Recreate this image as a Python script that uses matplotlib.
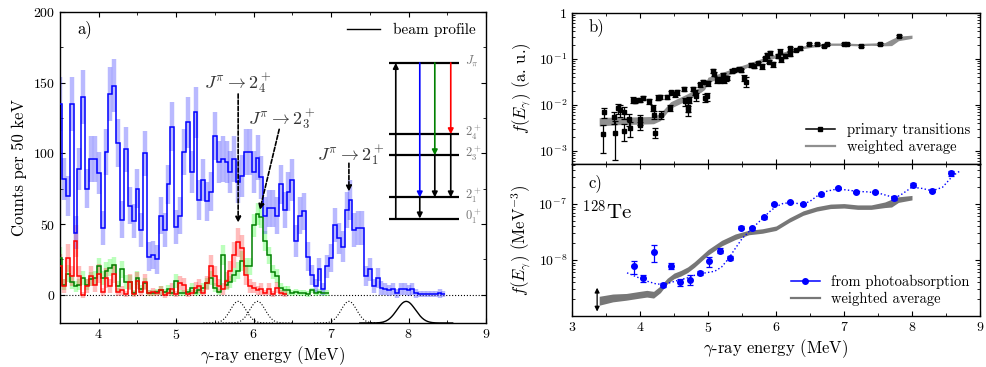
import numpy as np
import matplotlib
matplotlib.use('Agg')
import matplotlib.pyplot as plt
from matplotlib.lines import Line2D
from matplotlib.ticker import MultipleLocator, LogLocator, NullFormatter

plt.rcParams['font.family'] = 'serif'
plt.rcParams['font.serif'] = ['cmr10']
plt.rcParams['mathtext.fontset'] = 'cm'
plt.rcParams['axes.formatter.use_mathtext'] = True
plt.rcParams['axes.linewidth'] = 1.0

# ---- panel a: gamma spectra, 50 keV bins starting at 3.50 MeV (bin centres)
e_start = 3.50
bin_w = 0.05

blue_counts = [135, 82, 70, 135, 44, 89, 140, 75, 96, 96,
               86, 47, 101, 142, 148, 107, 53, 103, 63, 52,
               75, 46, 100, 27, 28, 25, 56, 46, 78, 119,
               48, 56, 101, 122, 87, 129, 67, 81, 66, 73,
               112, 94, 96, 94, 87, 96, 80, 84, 101, 101,
               87, 97, 83, 56, 61, 61, 56, 78, 60, 73,
               81, 38, 56, 59, 27, 14, 6, 18, 4, 20,
               26, 49, 40, 34, 60, 67, 46, 47, 47, 13,
               18, 6, 12, 5, 4, 3, 4, 1, 4, 4,
               3, 4, 1, 0.5, 0.3, 0.3, 0.5, 0.5, 1, 0.5]
blue_err = [19, 15, 14, 19, 12, 15, 19, 14, 16, 16,
            15, 12, 16, 19, 19, 17, 13, 16, 13, 12,
            14, 12, 16, 10, 10, 10, 13, 12, 14, 17,
            12, 13, 16, 18, 15, 18, 14, 15, 14, 14,
            17, 15, 16, 15, 15, 16, 15, 15, 16, 16,
            15, 16, 15, 13, 13, 13, 13, 14, 13, 14,
            15, 11, 13, 13, 10, 7, 5, 8, 4, 8,
            10, 12, 11, 11, 13, 14, 12, 12, 12, 7,
            8, 5, 7, 5, 4, 4, 4, 3, 4, 4,
            4, 4, 3, 2, 2, 2, 2, 2, 3, 2]

red_counts = [20, 6, 26, 13, 38, 13, 0, 6, 13, 7,
              15, 2, 12, 6, 15, 2, 3, 0.5, 9, 0.5,
              10, 2, 9, 1, 2, 1, 3, 0, 1, 4,
              0.5, 8, 7, 0.5, 1, 5, 6, 1, 8, 20,
              13, 6, 4, 10, 17, 28, 37, 33, 14, 6,
              5, 3, 4, 1, 4, 0.5, 5, 1, 0.5]
red_err = [9, 5, 10, 7, 11, 7, 2, 5, 7, 5,
           7, 3, 7, 5, 7, 3, 3, 2, 6, 2,
           6, 3, 6, 2, 3, 2, 3, 2, 2, 4,
           2, 5, 5, 2, 2, 4, 5, 2, 5, 8,
           7, 5, 4, 6, 7, 9, 10, 9, 7, 5,
           4, 3, 4, 2, 4, 2, 4, 2, 2]

green_counts = [26, 7, 15, 9, 6, 7, 12, 7, 11, 12,
                20, 12, 17, 19, 21, 6, 18, 9, 9, 1,
                12, 4, 8, 1, 1, 2, 3, 2, 4, 1,
                10, 1, 1, 2, 5, 1, 3, 5, 8, 12,
                5, 2, 28, 7, 9, 14, 17, 24, 20, 20,
                49, 57, 55, 38, 28, 16, 13, 5, 3, 3,
                1, 2, 1, 1, 0.5, 3, 1, 2, 1, 1]
green_err = [8, 4, 6, 5, 4, 4, 5, 4, 5, 5,
             6, 5, 6, 6, 6, 4, 6, 5, 5, 2,
             5, 3, 4, 2, 2, 2, 3, 2, 3, 2,
             5, 2, 2, 2, 3, 2, 3, 3, 4, 5,
             3, 2, 7, 4, 4, 5, 6, 7, 6, 6,
             8, 8, 8, 7, 6, 5, 5, 3, 3, 3,
             2, 2, 2, 2, 2, 2, 2, 2, 2, 2]

peak_e = [5.80, 6.05, 7.23]
beam_e = 7.97

# ---- panel b: primary transitions
prim_e = [3.45, 3.47, 3.62, 3.63, 3.68, 3.71, 3.76, 3.76, 3.84, 3.85,
          3.90, 3.93, 4.00, 4.00, 4.00, 4.05, 4.14, 4.19, 4.21, 4.22,
          4.27, 4.29, 4.31, 4.40, 4.44, 4.45, 4.51, 4.54, 4.65, 4.66,
          4.70, 4.71, 4.72, 4.78, 4.81, 4.83, 4.88, 4.93, 4.96, 4.98,
          5.00, 5.08, 5.09, 5.13, 5.18, 5.22, 5.24, 5.27, 5.28, 5.36,
          5.38, 5.45, 5.48, 5.53, 5.56, 5.64, 5.67, 5.74, 5.80, 5.84,
          5.87, 5.91, 5.90, 5.95, 6.03, 6.06, 6.08, 6.13, 6.20, 6.21,
          6.30, 6.36, 6.48, 6.60, 6.70, 6.75, 7.00, 7.04, 7.25, 7.53,
          7.81]
prim_f = [2.3, 7.0, 5.5, 2.5, 8.5, 7.7, 7.0, 2.7, 5.0, 3.1,
          12.7, 12.4, 3.6, 4.9, 13, 14, 12, 8.8, 6.2, 2.5,
          14.5, 15, 6.2, 15, 8.8, 18.7, 17, 19, 22, 12,
          9, 7.7, 12.7, 22, 18.5, 15.5, 28, 32, 14.5, 15.5,
          30, 55, 47, 35, 35, 45, 35, 38, 39, 55,
          57, 62, 57, 39, 32, 74, 70, 80, 70, 103,
          122, 133, 87, 78, 116, 145, 98, 116, 128, 170,
          157, 170, 210, 210, 195, 210, 210, 210, 195, 210,
          310]  # x 1e-3
prim_rel = [0.6, 0.25, 0.3, 0.75, 0.25, 0.3, 0.3, 0.4, 0.3, 0.35,
            0.15, 0.12, 0.2, 0.25, 0.1, 0.1, 0.12, 0.15, 0.2, 0.25,
            0.12, 0.1, 0.2, 0.1, 0.15, 0.1, 0.12, 0.12, 0.1, 0.2,
            0.2, 0.25, 0.15, 0.1, 0.12, 0.2, 0.1, 0.1, 0.2, 0.2,
            0.12, 0.1, 0.1, 0.15, 0.15, 0.1, 0.15, 0.12, 0.12, 0.08,
            0.08, 0.08, 0.08, 0.15, 0.25, 0.08, 0.08, 0.08, 0.12, 0.1,
            0.12, 0.1, 0.08, 0.12, 0.1, 0.12, 0.1, 0.1, 0.1, 0.1,
            0.06, 0.06, 0.05, 0.05, 0.05, 0.05, 0.05, 0.05, 0.05, 0.05,
            0.05]

avg_b_e = [3.4, 3.5, 3.7, 4.0, 4.2, 4.3, 4.45, 4.7, 4.9, 4.95, 5.0, 5.2, 5.4,
           5.6, 5.8, 6.0, 6.2, 6.4, 6.6, 6.8, 7.0, 7.2, 7.4, 7.6, 7.7, 7.8, 8.0]
avg_b = [4.3, 4.4, 4.5, 4.6, 4.7, 5.5, 10.0, 15.0, 22.0, 25.0, 35.0, 45.0, 58.0,
         74.0, 95.0, 116, 145, 180, 200, 210, 210, 205, 210, 210, 230, 280, 305]  # x 1e-3
avg_b_w = [0.09, 0.09, 0.08, 0.08, 0.08, 0.08, 0.07, 0.07, 0.06, 0.06, 0.06, 0.05, 0.05,
           0.04, 0.04, 0.035, 0.035, 0.03, 0.03, 0.025, 0.025, 0.025, 0.025, 0.035, 0.07, 0.05, 0.035]

# ---- panel c: photoabsorption
pa_e = [3.91, 4.04, 4.20, 4.34, 4.46, 4.59, 4.74, 4.88, 5.02, 5.17, 5.33, 5.48, 5.65,
        5.82, 5.97, 6.20, 6.40, 6.66, 6.91, 7.18, 7.45, 7.74, 8.02, 8.30, 8.58]
pa_f = [7.7, 4.8, 13.7, 3.55, 7.9, 4.05, 4.45, 5.85, 9.5, 14.7, 10.9, 38, 37,
        58, 100, 108, 99, 150, 190, 166, 162, 128, 219, 173, 356]  # x 1e-9
pa_err = [2.0, 0.7, 4.5, 0.3, 1.0, 0.6, 0.9, 0.4, 2.0, 1.5, 1.0, 2, 2,
          3, 4, 5, 4, 8, 8, 7, 7, 9, 20, 12, 35]
pa_fit_e = [3.81, 3.95, 4.1, 4.25, 4.4, 4.55, 4.7, 4.85, 5.0, 5.1, 5.2, 5.3, 5.4, 5.5,
            5.6, 5.7, 5.8, 5.9, 6.0, 6.1, 6.2, 6.3, 6.4, 6.5, 6.6, 6.75, 6.9, 7.05,
            7.2, 7.35, 7.5, 7.65, 7.75, 7.85, 8.0, 8.15, 8.3, 8.45, 8.6, 8.72]
pa_fit = [5.9, 5.0, 4.2, 3.7, 3.8, 4.3, 4.8, 5.6, 6.0, 6.3, 7.5, 10.5, 16, 24,
          32, 42, 55, 72, 90, 102, 106, 103, 100, 112, 138, 170, 186, 178,
          168, 165, 158, 140, 128, 150, 200, 190, 172, 200, 320, 400]
avg_c_e = [3.4, 3.6, 3.8, 4.0, 4.1, 4.2, 4.3, 4.4, 4.5, 4.6, 4.7, 4.8, 5.0, 5.2, 5.4,
           5.6, 5.8, 6.0, 6.2, 6.4, 6.6, 6.8, 7.0, 7.2, 7.4, 7.6, 7.7, 7.8, 8.0]
avg_c = [1.87, 2.1, 2.2, 2.4, 2.5, 2.4, 3.0, 4.2, 5.2, 5.8, 6.7, 8.3, 13.7, 20, 26,
         31, 33, 37, 52, 69, 82, 91, 93, 88, 88, 97, 104, 120, 130]  # x 1e-9
avg_c_w = [0.08, 0.07, 0.06, 0.06, 0.06, 0.06, 0.06, 0.05, 0.05, 0.05, 0.05, 0.05, 0.05,
           0.05, 0.05, 0.04, 0.04, 0.04, 0.04, 0.04, 0.04, 0.04, 0.04, 0.04, 0.04, 0.05,
           0.07, 0.05, 0.04]

fig = plt.figure(figsize=(9.87, 3.67), dpi=100)
ax_a = fig.add_axes([0.0608, 0.1199, 0.4316, 0.8474])
ax_b = fig.add_axes([0.5795, 0.5531, 0.4134, 0.4114])
ax_c = fig.add_axes([0.5795, 0.1390, 0.4134, 0.4142], sharex=ax_b)


def draw_hist(ax, counts, errs, color, ecolor, ealpha):
    centers = e_start + bin_w * np.arange(len(counts))
    edges = np.append(centers - bin_w / 2, centers[-1] + bin_w / 2)
    ax.errorbar(centers, counts, yerr=errs, fmt='none', ecolor=ecolor,
                elinewidth=3.2, alpha=ealpha, capsize=0, zorder=2)
    return ax.stairs(counts, edges, color=color, lw=1.1, baseline=None, zorder=3)


draw_hist(ax_a, green_counts, green_err, '#008000', '#40ff40', 0.35)
draw_hist(ax_a, red_counts, red_err, '#ff0000', '#ff4040', 0.35)
draw_hist(ax_a, blue_counts, blue_err, '#0000ff', '#5050ff', 0.4)

ax_a.axhline(0, color='k', ls=':', lw=0.8, zorder=1)
for pe in peak_e:
    xx = np.linspace(pe - 0.45, pe + 0.45, 120)
    ax_a.plot(xx, -20 + 15.3 * np.exp(-0.5 * ((xx - pe) / 0.1) ** 2), color='k', ls=':', lw=0.8)
xx = np.linspace(beam_e - 0.6, beam_e + 0.6, 150)
ax_a.plot(xx, -20 + 15.3 * np.exp(-0.5 * ((xx - beam_e) / 0.12) ** 2), color='k', lw=1.0,
          label='beam profile')

# transition annotations
ann_kw = dict(fontsize=13, color='#333333', ha='center', va='center')
dash_arrow = dict(arrowstyle='-|>', ls=(0, (2.5, 1.2)), lw=1.2, color='k', mutation_scale=8,
                  shrinkA=0, shrinkB=0)
ax_a.text(5.80, 150, r'$J^{\pi}\rightarrow 2^+_4$', **ann_kw)
ax_a.annotate('', xy=(5.80, 51), xytext=(5.80, 142), arrowprops=dash_arrow)
ax_a.text(6.36, 124, r'$J^{\pi}\rightarrow 2^+_3$', **ann_kw)
ax_a.annotate('', xy=(6.08, 60), xytext=(6.33, 117), arrowprops=dash_arrow)
ax_a.text(7.26, 99, r'$J^{\pi}\rightarrow 2^+_1$', **ann_kw)
ax_a.annotate('', xy=(7.23, 73), xytext=(7.23, 93), arrowprops=dash_arrow)

# level scheme
lvl_y = [164, 113.5, 98.6, 68.8, 53.9]
lvl_lab = [r'$J_\pi$', r'$2^+_4$', r'$2^+_3$', r'$2^+_1$', r'$0^+_1$']
for yy, lab in zip(lvl_y, lvl_lab):
    ax_a.plot([7.745, 8.648], [yy, yy], color='k', lw=1.6, solid_capstyle='butt')
    ax_a.text(8.73, yy + 1, lab, fontsize=9, color='#777777', ha='left', va='center')


def lvl_arrow(x, y0, y1, c):
    ax_a.annotate('', xy=(x, y1), xytext=(x, y0),
                  arrowprops=dict(arrowstyle='-|>', lw=1.2, color=c, mutation_scale=8,
                                  shrinkA=0, shrinkB=0))


lvl_arrow(7.835, lvl_y[4], lvl_y[0], 'k')
lvl_arrow(8.145, lvl_y[0], lvl_y[3], '#0000ff')
lvl_arrow(8.339, lvl_y[0], lvl_y[2], '#008000')
lvl_arrow(8.545, lvl_y[0], lvl_y[1], '#ff0000')
lvl_arrow(8.339, lvl_y[2], lvl_y[3], 'k')
lvl_arrow(8.545, lvl_y[1], lvl_y[3], 'k')
lvl_arrow(8.145, lvl_y[3], lvl_y[4], 'k')

ax_a.set_xlim(3.5, 9)
ax_a.set_ylim(-20, 200)
ax_a.xaxis.set_major_locator(MultipleLocator(1))
ax_a.xaxis.set_minor_locator(MultipleLocator(0.5))
ax_a.yaxis.set_major_locator(MultipleLocator(50))
ax_a.yaxis.set_minor_locator(MultipleLocator(25))
ax_a.tick_params(which='both', direction='in', top=True, right=True, labelsize=10)
ax_a.set_xlabel(r'$\gamma$-ray energy (MeV)', fontsize=12, labelpad=2)
ax_a.set_ylabel('Counts per 50 keV', fontsize=12)
ax_a.text(0.04, 0.945, 'a)', transform=ax_a.transAxes, fontsize=12, va='center')
ax_a.legend(loc='upper right', frameon=False, fontsize=11, handlelength=2.2,
            borderaxespad=0.3)

# ---- panel b
pf = np.array(prim_f) * 1e-3
ax_b.errorbar(prim_e, pf, yerr=pf * np.array(prim_rel), fmt='s', ms=3.5, color='k',
              ecolor='k', elinewidth=0.9, capsize=2, capthick=0.9, zorder=3)
ab = np.array(avg_b) * 1e-3
wb = 10 ** np.array(avg_b_w)
ax_b.fill_between(avg_b_e, ab / wb, ab * wb, color='#8f8f8f', lw=0, zorder=2)

ax_b.set_yscale('log')
ax_b.set_ylim(5.2e-4, 1)
ax_b.set_yticks([1e-3, 1e-2, 1e-1, 1])
ax_b.set_yticklabels([r'$10^{-3}$', r'$10^{-2}$', r'$10^{-1}$', '1'])
ax_b.set_ylabel(r'$f(E_\gamma)$ (a. u.)', fontsize=12)
ax_b.text(0.04, 0.91, 'b)', transform=ax_b.transAxes, fontsize=12, va='center')
hb = [Line2D([], [], color='k', marker='s', ms=3.5, lw=1.1),
      Line2D([], [], color='#8f8f8f', lw=1.6)]
ax_b.legend(hb, ['primary transitions', 'weighted average'], loc='lower right',
            frameon=False, fontsize=10.5, handlelength=2.0, labelspacing=0.2,
            borderaxespad=0.3)

# ---- panel c
pa = np.array(pa_f) * 1e-9
ax_c.plot(pa_fit_e, np.array(pa_fit) * 1e-9, color='#0000ff', ls=':', lw=1.0, zorder=2)
ax_c.errorbar(pa_e, pa, yerr=np.array(pa_err) * 1e-9, fmt='o', ms=4, color='#0000ff',
              elinewidth=0.9, capsize=2, capthick=0.9, zorder=3)
ac = np.array(avg_c) * 1e-9
wc = 10 ** np.array(avg_c_w)
ax_c.fill_between(avg_c_e, ac / wc, ac * wc, color='#777777', lw=0, zorder=1)
ax_c.annotate('', xy=(3.37, 1.2e-9), xytext=(3.37, 3.2e-9),
              arrowprops=dict(arrowstyle='<|-|>', lw=0.9, color='k', mutation_scale=7,
                              shrinkA=0, shrinkB=0))

ax_c.set_yscale('log')
ax_c.set_ylim(1e-9, 5.2e-7)
ax_c.set_yticks([1e-8, 1e-7])
ax_c.set_yticklabels([r'$10^{-8}$', r'$10^{-7}$'])
ax_c.set_ylabel(r'$f(E_\gamma)$ (MeV$^{-3}$)', fontsize=12)
ax_c.set_xlabel(r'$\gamma$-ray energy (MeV)', fontsize=12, labelpad=2)
ax_c.text(0.04, 0.875, 'c)', transform=ax_c.transAxes, fontsize=12, va='center')
ax_c.text(0.025, 0.685, r'$^{128}$Te', transform=ax_c.transAxes, fontsize=15, va='center')
hc = [Line2D([], [], color='#0000ff', marker='o', ms=4, lw=1.1),
      Line2D([], [], color='#777777', lw=1.6)]
ax_c.legend(hc, ['from photoabsorption', 'weighted average'], loc='lower right',
            frameon=False, fontsize=10.5, handlelength=2.0, labelspacing=0.2,
            borderaxespad=0.3)

for ax in (ax_b, ax_c):
    ax.set_xlim(3, 9)
    ax.xaxis.set_major_locator(MultipleLocator(1))
    ax.xaxis.set_minor_locator(MultipleLocator(0.5))
    ax.yaxis.set_minor_locator(LogLocator(base=10, subs=np.arange(2, 10)))
    ax.yaxis.set_minor_formatter(NullFormatter())
    ax.tick_params(which='both', direction='in', top=True, right=True, labelsize=10)
ax_b.tick_params(labelbottom=False)

fig.savefig('out.png', dpi=100)
